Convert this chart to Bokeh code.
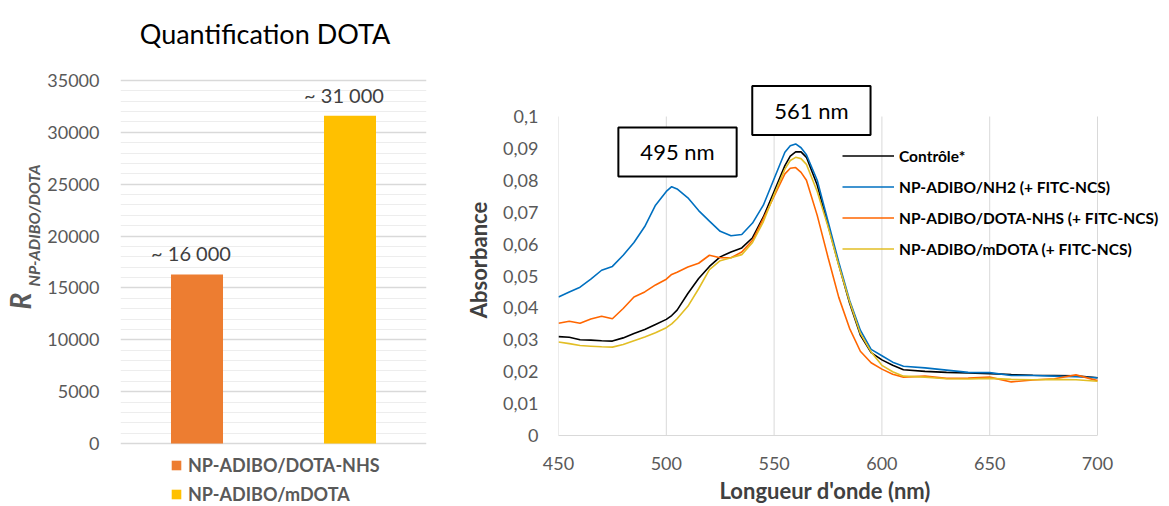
import math
from bokeh.plotting import figure
from bokeh.models import (ColumnDataSource, FactorRange, Range1d, FixedTicker,
                          Label, Legend, LegendItem, Title)
from bokeh.layouts import row
from bokeh.embed import file_html
from bokeh.resources import INLINE
from bokeh.core.properties import value

FONT = "Lato"
GRAY = "#595959"
DARK = "#404040"

# ---------------- left chart data ----------------
bar_categories = ["NP-ADIBO/DOTA-NHS", "NP-ADIBO/mDOTA"]
bar_values = [16300, 31600]
bar_labels = ["~ 16 000", "~ 31 000"]
bar_colors = ["#ED7D31", "#FFC000"]
left_title = "Quantification DOTA"
left_major_ticks = [0, 5000, 10000, 15000, 20000, 25000, 30000, 35000]
left_minor_ticks = [t for t in range(0, 35001, 1000) if t % 5000 != 0]
left_ylabel_main = "R"
left_ylabel_sub = "NP-ADIBO/DOTA"

# ---------------- right chart data ----------------
wavelengths = [450, 455, 460, 465, 470, 475, 480, 485, 490, 495, 500, 502.5, 505, 510,
               515, 520, 525, 530, 535, 540, 545, 550, 555, 557.5, 560, 562.5, 565, 570,
               575, 580, 585, 590, 595, 600, 605, 610, 620, 630, 640, 650, 660, 670,
               680, 690, 700]
controle = [0.0310, 0.0308, 0.0300, 0.0299, 0.0297, 0.0296, 0.0306, 0.0320, 0.0332, 0.0348,
            0.0364, 0.0376, 0.0393, 0.0445, 0.0492, 0.0530, 0.0560, 0.0575, 0.0588, 0.0620,
            0.0685, 0.0765, 0.0846, 0.0876, 0.0889, 0.0889, 0.0872, 0.0785, 0.0660, 0.0535,
            0.0415, 0.0315, 0.0260, 0.0237, 0.0220, 0.0206, 0.0201, 0.0198, 0.0196, 0.0194,
            0.0191, 0.0189, 0.0188, 0.0187, 0.0181]
np_nh2 = [0.0434, 0.0450, 0.0465, 0.0490, 0.0518, 0.0530, 0.0565, 0.0605, 0.0655, 0.0722,
          0.0765, 0.0780, 0.0773, 0.0745, 0.0705, 0.0672, 0.0640, 0.0626, 0.0630, 0.0666,
          0.0722, 0.0805, 0.0888, 0.0908, 0.0914, 0.0902, 0.0880, 0.0800, 0.0672, 0.0543,
          0.0424, 0.0330, 0.0270, 0.0250, 0.0230, 0.0217, 0.0212, 0.0205, 0.0198, 0.0197,
          0.0188, 0.0188, 0.0186, 0.0184, 0.0181]
np_dota_nhs = [0.0352, 0.0358, 0.0352, 0.0365, 0.0374, 0.0366, 0.0398, 0.0434, 0.0450, 0.0472,
               0.0490, 0.0505, 0.0512, 0.0528, 0.0540, 0.0565, 0.0557, 0.0557, 0.0575, 0.0612,
               0.0680, 0.0750, 0.0820, 0.0838, 0.0840, 0.0825, 0.0800, 0.0690, 0.0559, 0.0433,
               0.0336, 0.0264, 0.0228, 0.0208, 0.0192, 0.0183, 0.0186, 0.0179, 0.0180, 0.0183,
               0.0168, 0.0174, 0.0178, 0.0190, 0.0172]
np_mdota = [0.0293, 0.0288, 0.0282, 0.0280, 0.0278, 0.0277, 0.0285, 0.0297, 0.0309, 0.0322,
            0.0338, 0.0350, 0.0366, 0.0405, 0.0460, 0.0520, 0.0548, 0.0557, 0.0567, 0.0605,
            0.0670, 0.0755, 0.0835, 0.0862, 0.0872, 0.0868, 0.0850, 0.0765, 0.0655, 0.0533,
            0.0420, 0.0320, 0.0262, 0.0220, 0.0200, 0.0186, 0.0183, 0.0178, 0.0177, 0.0179,
            0.0176, 0.0175, 0.0176, 0.0175, 0.0170]
series_names = ["Contrôle*", "NP-ADIBO/NH2 (+ FITC-NCS)",
                "NP-ADIBO/DOTA-NHS (+ FITC-NCS)", "NP-ADIBO/mDOTA (+ FITC-NCS)"]
series_colors = ["#000000", "#0070C0", "#FF6600", "#E2BE25"]
x_ticks = [450, 500, 550, 600, 650, 700]
y_ticks = [0, 0.01, 0.02, 0.03, 0.04, 0.05, 0.06, 0.07, 0.08, 0.09, 0.1]
y_tick_labels = ["0", "0,01", "0,02", "0,03", "0,04", "0,05", "0,06", "0,07", "0,08", "0,09", "0,1"]
peak_texts = ["495 nm", "561 nm"]
peak_pos_x = [505.2, 567.3]
peak_pos_y = [0.0889, 0.1019]
x_axis_title = "Longueur d'onde (nm)"
y_axis_title = "Absorbance"

H = 505

# ================= FIG A : rotated y label of the bar chart =================
pA = figure(width=42, height=H, x_range=Range1d(0, 42), y_range=Range1d(H, 0),
            x_axis_type=None, y_axis_type=None, output_backend="svg", toolbar_location=None,
            min_border_left=0, min_border_right=0, min_border_top=0, min_border_bottom=0,
            frame_align=False)
pA.outline_line_color = None
pA.grid.visible = False
pA.add_layout(Label(x=19.5, y=309, text=left_ylabel_main, angle=math.pi / 2,
                    text_align="left", text_baseline="middle", text_font=FONT,
                    text_font_style="bold italic", text_font_size="28px", text_color=GRAY))
pA.add_layout(Label(x=32.5, y=286, text=left_ylabel_sub, angle=math.pi / 2,
                    text_align="left", text_baseline="middle", text_font=FONT,
                    text_font_style="bold italic", text_font_size="16px", text_color=GRAY))

# ================= FIG B : bar chart =================
# frame spans the full height; 0 -> 443 px, 35000 -> 80 px from top of page
k = 35000 / (443 - 80)
pB = figure(width=406, height=H, x_range=FactorRange(*bar_categories),
            y_range=Range1d(-(H - 443) * k, 443 * k), x_axis_type=None,
            output_backend="svg", toolbar_location=None,
            min_border_left=78, min_border_right=22, min_border_top=0, min_border_bottom=0,
            frame_align=False)
pB.outline_line_color = None
pB.xgrid.grid_line_color = None
pB.yaxis.ticker = FixedTicker(ticks=left_major_ticks, minor_ticks=left_minor_ticks)
pB.yaxis.axis_line_color = None
pB.yaxis.major_tick_line_color = None
pB.yaxis.minor_tick_line_color = None
pB.yaxis.major_tick_out = 0
pB.yaxis.minor_tick_out = 0
pB.yaxis.major_label_text_font = FONT
pB.yaxis.major_label_text_font_size = "18px"
pB.yaxis.major_label_text_color = GRAY
pB.yaxis.major_label_standoff = 21
pB.ygrid.grid_line_color = "#D9D9D9"
pB.ygrid.grid_line_width = 1.5
pB.ygrid.minor_grid_line_color = "#EDEDED"
pB.ygrid.minor_grid_line_width = 1

src = ColumnDataSource(dict(cat=bar_categories, val=bar_values, lab=bar_labels, col=bar_colors))
pB.vbar(x="cat", top="val", width=0.34, fill_color="col", line_color=None, source=src,
        legend_field="cat")
pB.text(x="cat", y="val", text="lab", source=src, text_align="center",
        text_baseline="middle", y_offset=-21, x_offset=-6,
        text_font=value(FONT), text_font_size="20px", text_color=DARK)

legB = pB.legend[0]
legB.location = (50, 0)
legB.orientation = "vertical"
legB.label_text_font = FONT
legB.label_text_font_style = "bold"
legB.label_text_font_size = "18px"
legB.label_text_color = GRAY
legB.glyph_width = 12
legB.glyph_height = 12
legB.label_standoff = 6
legB.spacing = 7
legB.padding = 0
legB.margin = 0
legB.border_line_color = None
legB.background_fill_alpha = 0

pB.add_layout(Label(x=(264.5 - 120) / 153.0, y=(443 - 32.5) * k, text=left_title,
                    text_align="center", text_baseline="middle", text_font=FONT,
                    text_font_size="27px", text_color="black"))

# ================= FIG C : spectra =================
FRAME_L, FRAME_R, FIG_L = 558, 1168, 448
px_per_nm = (1097 - FRAME_L) / 250.0
x_end = 450 + (FRAME_R - FRAME_L) / px_per_nm
y_end = (435 - 84) / 3190.0
pC = figure(width=720, height=H, x_range=Range1d(450, x_end), y_range=Range1d(0, y_end),
            output_backend="svg", toolbar_location=None,
            min_border_left=FRAME_L - FIG_L, min_border_right=0, min_border_top=84,
            min_border_bottom=70, frame_align=False)
pC.outline_line_color = None
pC.xaxis.ticker = FixedTicker(ticks=x_ticks)
pC.xaxis.bounds = (x_ticks[0], x_ticks[-1])
pC.yaxis.ticker = FixedTicker(ticks=y_ticks)
pC.yaxis.major_label_overrides = dict(zip(y_ticks, y_tick_labels))
pC.grid.visible = False
pC.xaxis.axis_line_color = "#D9D9D9"
pC.yaxis.axis_line_color = None
for ax in (pC.xaxis[0], pC.yaxis[0]):
    ax.major_tick_line_color = None
    ax.minor_tick_line_color = None
    ax.major_tick_out = 0
    ax.minor_tick_out = 0
    ax.major_label_text_font = FONT
    ax.major_label_text_font_size = "18px"
    ax.major_label_text_color = GRAY
pC.xaxis.major_label_standoff = 21
pC.yaxis.major_label_standoff = 20
pC.yaxis.axis_label = y_axis_title
pC.yaxis.axis_label_standoff = 8
pC.yaxis.axis_label_text_font = FONT
pC.yaxis.axis_label_text_font_style = "bold"
pC.yaxis.axis_label_text_font_size = "22px"
pC.yaxis.axis_label_text_color = DARK

pC.add_layout(Title(text=x_axis_title, align="left", offset=161, standoff=4,
                    text_font=FONT, text_font_style="bold", text_font_size="22px",
                    text_color=DARK), "below")

# vertical grid lines at the x ticks, up to the top y tick
pC.segment(x0=x_ticks, y0=[y_ticks[0]] * len(x_ticks), x1=x_ticks,
           y1=[y_ticks[-1]] * len(x_ticks), line_color="#D9D9D9", line_width=1)

items = []
for name, ys, col in zip(series_names, [controle, np_nh2, np_dota_nhs, np_mdota], series_colors):
    r = pC.line(wavelengths, ys, line_color=col, line_width=1.6)
    items.append(LegendItem(label=name, renderers=[r]))

legC = Legend(items=items, location=(284, 177), orientation="vertical",
              label_text_font=FONT, label_text_font_style="bold", label_text_font_size="15.5px",
              label_text_color="black", glyph_width=52, glyph_height=19, label_standoff=5,
              spacing=12, padding=0, margin=0, border_line_color=None, background_fill_alpha=0)
pC.add_layout(legC, "center")

for txt, px, py in zip(peak_texts, peak_pos_x, peak_pos_y):
    pC.add_layout(Label(x=px, y=py, text=txt, text_align="center", text_baseline="middle",
                        text_font=FONT, text_font_size="22px", text_color="black",
                        border_line_color="black", border_line_width=2,
                        background_fill_color="white",
                        padding=dict(left=22, right=22, top=11, bottom=11)))

layout = row(pA, pB, pC)
open("out.html", "w").write(file_html(layout, INLINE))
